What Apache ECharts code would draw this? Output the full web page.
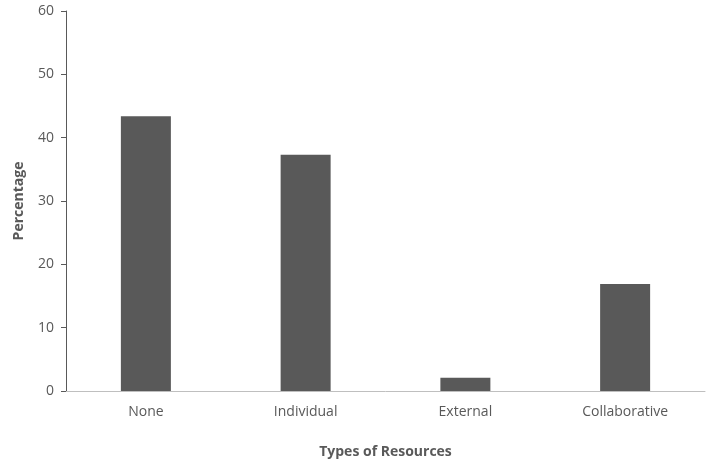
<!DOCTYPE html>
<html>
<head>
<meta charset="UTF-8" />
<script src="https://cdn.jsdelivr.net/npm/echarts@6/dist/echarts.min.js"></script>
<style>body{margin:0}</style>
</head>
<body>
<div id="c" style="width:709px;height:474px"></div>
<script>
const categories = ['None', 'Individual', 'External', 'Collaborative'];
const values = [43.4, 37.3, 2.1, 16.9];
const yTicks = [0, 10, 20, 30, 40, 50, 60];

const chart = echarts.init(document.getElementById('c'));
chart.setOption({
  textStyle: { fontFamily: 'Open Sans' },
  grid: { left: 66, right: 4, top: 11, bottom: 83 },
  xAxis: {
    type: 'category',
    data: categories,
    name: 'Types of Resources',
    nameLocation: 'middle',
    nameGap: 54,
    nameTextStyle: { fontWeight: 'bold', fontSize: 14, color: '#595959' },
    axisTick: { show: false },
    axisLine: { lineStyle: { color: '#bfbfbf' } },
    axisLabel: { color: '#595959', fontSize: 14, margin: 14 }
  },
  yAxis: {
    type: 'value',
    min: yTicks[0],
    max: yTicks[yTicks.length - 1],
    interval: 10,
    name: 'Percentage',
    nameLocation: 'middle',
    nameGap: 40,
    nameTextStyle: { fontWeight: 'bold', fontSize: 14, color: '#595959' },
    axisLine: { show: true, lineStyle: { color: '#595959' } },
    axisTick: { show: true, length: 5, inside: false },
    splitLine: { show: false },
    axisLabel: { color: '#595959', fontSize: 14, margin: 12 }
  },
  series: [{
    type: 'bar',
    data: values,
    barWidth: 50,
    itemStyle: { color: '#595959' }
  }]
});
</script>
</body>
</html>
